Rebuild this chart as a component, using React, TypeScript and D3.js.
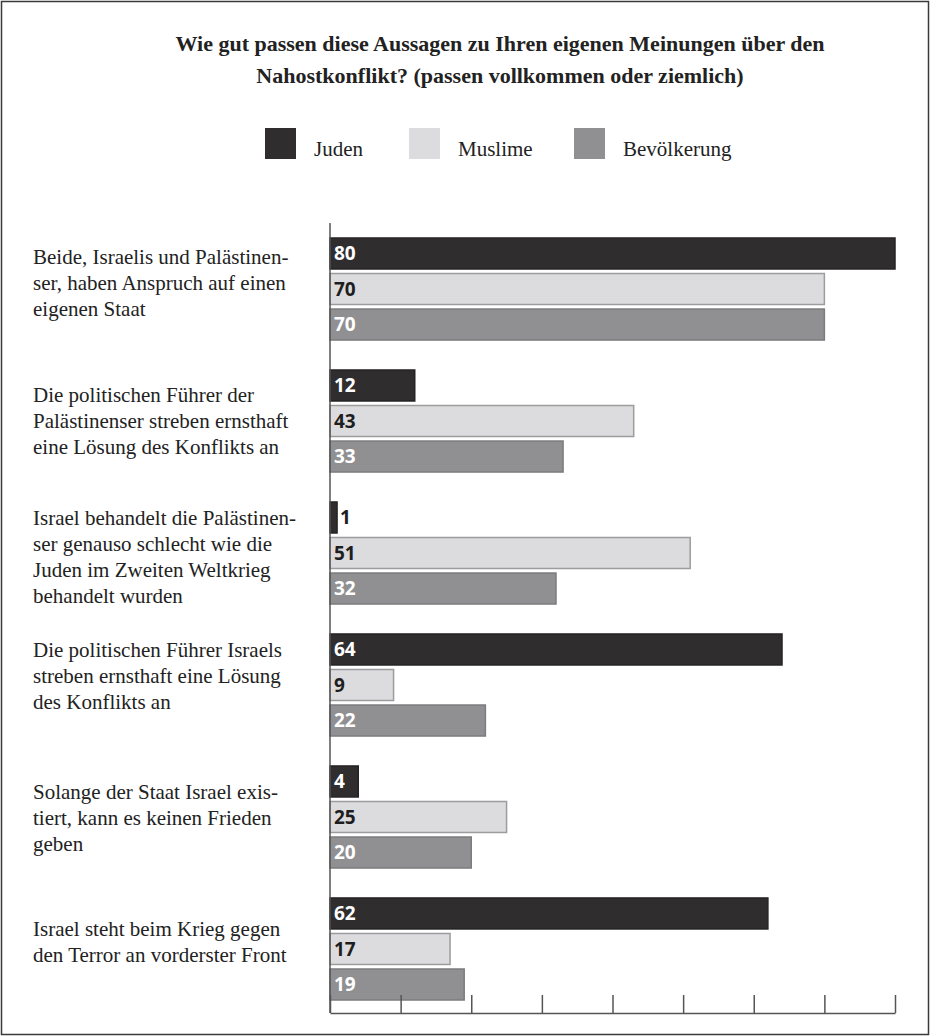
import React, { useEffect, useRef } from "react";
import * as d3 from "d3";

const categories: string[][] = [
  ["Beide, Israelis und Palästinen-", "ser, haben Anspruch auf einen", "eigenen Staat"],
  ["Die politischen Führer der", "Palästinenser streben ernsthaft", "eine Lösung des Konflikts an"],
  ["Israel behandelt die Palästinen-", "ser genauso schlecht wie die", "Juden im Zweiten Weltkrieg", "behandelt wurden"],
  ["Die politischen Führer Israels", "streben ernsthaft eine Lösung", "des Konflikts  an"],
  ["Solange der Staat Israel exis-", "tiert, kann es keinen Frieden", "geben"],
  ["Israel steht beim Krieg gegen", "den Terror an vorderster Front"],
];
const seriesNames = ["Juden", "Muslime", "Bevölkerung"];
const juden = [80, 12, 1, 64, 4, 62];
const muslime = [70, 43, 51, 9, 25, 17];
const bevoelkerung = [70, 33, 32, 22, 20, 19];
const xTicks = [0, 10, 20, 30, 40, 50, 60, 70, 80];
const titleLines = [
  "Wie gut passen diese Aussagen zu Ihren eigenen Meinungen über den",
  "Nahostkonflikt? (passen vollkommen oder ziemlich)",
];

const fills = ["#302d2f", "#dcdcde", "#909092"];
const strokes = ["#262325", "#9c9c9e", "#7c7c7e"];
const labelColors = ["#ffffff", "#1e1e1e", "#ffffff"];
// vertical nudge of each category label block relative to its bar group
const labelNudge = [-4, 2, 6, -7, 3, -5];

const W = 931;
const H = 1036;

export default function App() {
  const ref = useRef<SVGSVGElement>(null);

  useEffect(() => {
    const svg = d3.select(ref.current);
    svg.selectAll("*").remove();

    const serif = "'Liberation Serif', 'DejaVu Serif', serif";
    const sans = "'Open Sans', 'Noto Sans', sans-serif";

    svg.append("rect").attr("width", W).attr("height", H).attr("fill", "#fff");
    svg.append("rect")
      .attr("x", 1.5).attr("y", 1.5).attr("width", W - 4).attr("height", H - 3)
      .attr("fill", "none").attr("stroke", "#3a3a3a").attr("stroke-width", 1.5);

    // Title
    titleLines.forEach((t, i) => {
      svg.append("text")
        .attr("x", 500).attr("y", 51 + i * 32)
        .attr("text-anchor", "middle")
        .attr("font-family", serif).attr("font-weight", "bold")
        .attr("font-size", 22).attr("fill", "#222")
        .text(t);
    });

    // Legend
    const legendX = [265, 409, 574];
    seriesNames.forEach((s, i) => {
      svg.append("rect")
        .attr("x", legendX[i]).attr("y", 128).attr("width", 31).attr("height", 31)
        .attr("fill", fills[i]);
      svg.append("text")
        .attr("x", legendX[i] + 49).attr("y", 156)
        .attr("font-family", serif).attr("font-size", 21).attr("fill", "#222")
        .text(s);
    });

    const data = [juden, muslime, bevoelkerung];
    const idx = d3.range(categories.length);

    const x = d3.scaleLinear().domain([0, 80]).range([330, 895]);
    const y = d3.scaleBand<number>().domain(idx).range([238, 1000]).paddingInner(0.227).paddingOuter(0);
    const yi = d3.scaleBand<number>().domain([0, 1, 2]).range([0, y.bandwidth()]).paddingInner(0.127).paddingOuter(0);

    const g = svg.append("g");
    idx.forEach((c) => {
      [0, 1, 2].forEach((s) => {
        const v = data[s][c];
        const by = (y(c) as number) + (yi(s) as number);
        g.append("rect")
          .attr("x", x(0)).attr("y", by)
          .attr("width", x(v) - x(0)).attr("height", yi.bandwidth())
          .attr("fill", fills[s]).attr("stroke", strokes[s]).attr("stroke-width", 1.5);
        const inside = x(v) - x(0) > 20;
        g.append("text")
          .attr("x", inside ? x(0) + 4 : x(v) + 3)
          .attr("y", by + yi.bandwidth() / 2)
          .attr("dy", "0.36em")
          .attr("font-family", sans).attr("font-weight", "bold")
          .attr("font-size", 19)
          .attr("fill", inside ? labelColors[s] : "#1e1e1e")
          .text(String(v));
      });
      const lines = categories[c];
      const lh = 26;
      const cy = (y(c) as number) + y.bandwidth() / 2 + labelNudge[c];
      lines.forEach((l, k) => {
        svg.append("text")
          .attr("x", 33)
          .attr("y", cy + (k - (lines.length - 1) / 2) * lh)
          .attr("dy", "0.25em")
          .attr("font-family", serif).attr("font-size", 21).attr("fill", "#222")
          .text(l);
      });
    });

    // Axes
    const axisY = 1013;
    const ax = svg.append("g").attr("transform", `translate(0,${axisY})`)
      .call(d3.axisBottom(x).tickValues(xTicks).tickSizeInner(-18).tickSizeOuter(0).tickFormat(() => ""));
    ax.select(".domain").attr("stroke", "#555").attr("stroke-width", 1.5);
    ax.selectAll(".tick line").attr("stroke", "#555").attr("stroke-width", 1.5);

    svg.append("line")
      .attr("x1", x(0)).attr("x2", x(0)).attr("y1", 223).attr("y2", axisY)
      .attr("stroke", "#555").attr("stroke-width", 1.5);
  }, []);

  return (
    <div style={{ position: "absolute", left: 0, top: 0 }}>
      <svg ref={ref} width={W} height={H} style={{ display: "block" }} />
    </div>
  );
}
